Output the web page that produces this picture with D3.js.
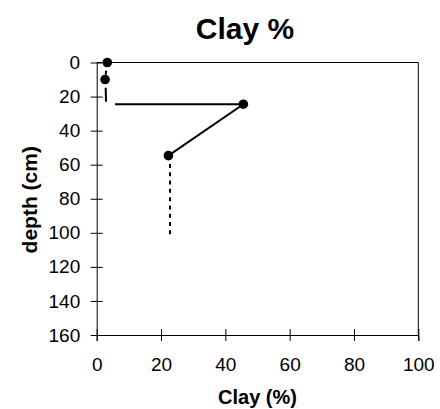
<!DOCTYPE html>
<html>
<head>
<meta charset="utf-8">
<script src="https://cdn.jsdelivr.net/npm/d3@7"></script>
<style>
  html, body { margin: 0; padding: 0; background: #fff; }
  svg { display: block; font-family: "Liberation Sans", Arial, sans-serif; }
</style>
</head>
<body>
<svg id="chart" width="440" height="409"></svg>
<script>
// ---- data ----
const title = "Clay %";
const xLabel = "Clay (%)";
const yLabel = "depth (cm)";
const xTicks = [0, 20, 40, 60, 80, 100];
const yTicks = [0, 20, 40, 60, 80, 100, 120, 140, 160];
const clay = [3.3, 2.6, 45.6, 22.3];
const depth = [0, 10, 24.5, 54.7];
// line pieces as [clay, depth] pairs
const dottedSegments = [
  [[3.3, 0], [2.6, 10]],
  [[22.8, 54.7], [22.8, 103]]
];
const solidSegments = [
  [[2.8, 14.8], [2.9, 23]],
  [[5.7, 24.5], [45.6, 24.5]],
  [[45.6, 24.5], [22.3, 54.7]]
];

// ---- layout ----
const mLeft = 96.7, mRight = 418.3, mTop = 62.5, mBottom = 335;
const svg = d3.select("#chart");
const x = d3.scaleLinear().domain([0, 100]).range([mLeft, mRight]);
const y = d3.scaleLinear().domain([0, 160]).range([mTop, mBottom]);

// frame (top & right)
svg.append("path")
  .attr("d", `M${mLeft},${mTop}H${mRight}V${mBottom}`)
  .attr("fill", "none").attr("stroke", "#000").attr("stroke-width", 1);

// y axis
const yAxis = svg.append("g").attr("transform", `translate(${mLeft},0)`)
  .call(d3.axisLeft(y).tickValues(yTicks).tickSize(6).tickSizeOuter(0).tickPadding(11));
yAxis.selectAll(".tick line").attr("x2", 6).attr("x1", -6);
yAxis.selectAll(".tick text").attr("font-size", 19).attr("fill", "#000").attr("x", -16.5);

// x axis
const xAxis = svg.append("g").attr("transform", `translate(0,${mBottom})`)
  .call(d3.axisBottom(x).tickValues(xTicks).tickSizeOuter(0).tickSize(6).tickPadding(17));
xAxis.selectAll(".tick line").attr("y1", -6).attr("y2", 6);
xAxis.selectAll(".tick text").attr("font-size", 19).attr("fill", "#000");
svg.selectAll(".domain").attr("stroke", "#000");
svg.selectAll("g").attr("font-family", null);

const line = d3.line().x(d => x(d[0])).y(d => y(d[1]));

svg.append("g").selectAll("path").data(dottedSegments).join("path")
  .attr("d", line).attr("fill", "none").attr("stroke", "#000")
  .attr("stroke-width", 2).attr("stroke-dasharray", "4,4.3");

svg.append("g").selectAll("path").data(solidSegments).join("path")
  .attr("d", line).attr("fill", "none").attr("stroke", "#000")
  .attr("stroke-width", 2);

svg.append("g").selectAll("circle").data(clay).join("circle")
  .attr("cx", d => x(d)).attr("cy", (d, i) => y(depth[i]))
  .attr("r", 4.8).attr("fill", "#000");

// titles
svg.append("text").attr("x", 245).attr("y", 38.5).attr("text-anchor", "middle")
  .attr("font-size", 30).attr("font-weight", "bold").text(title);
svg.append("text").attr("x", 257.5).attr("y", 403.5).attr("text-anchor", "middle")
  .attr("font-size", 20).attr("font-weight", "bold").text(xLabel);
svg.append("text").attr("transform", `translate(37,${(mTop + mBottom) / 2 + 1}) rotate(-90)`)
  .attr("text-anchor", "middle")
  .attr("font-size", 21).attr("font-weight", "bold").text(yLabel);
</script>
</body>
</html>
